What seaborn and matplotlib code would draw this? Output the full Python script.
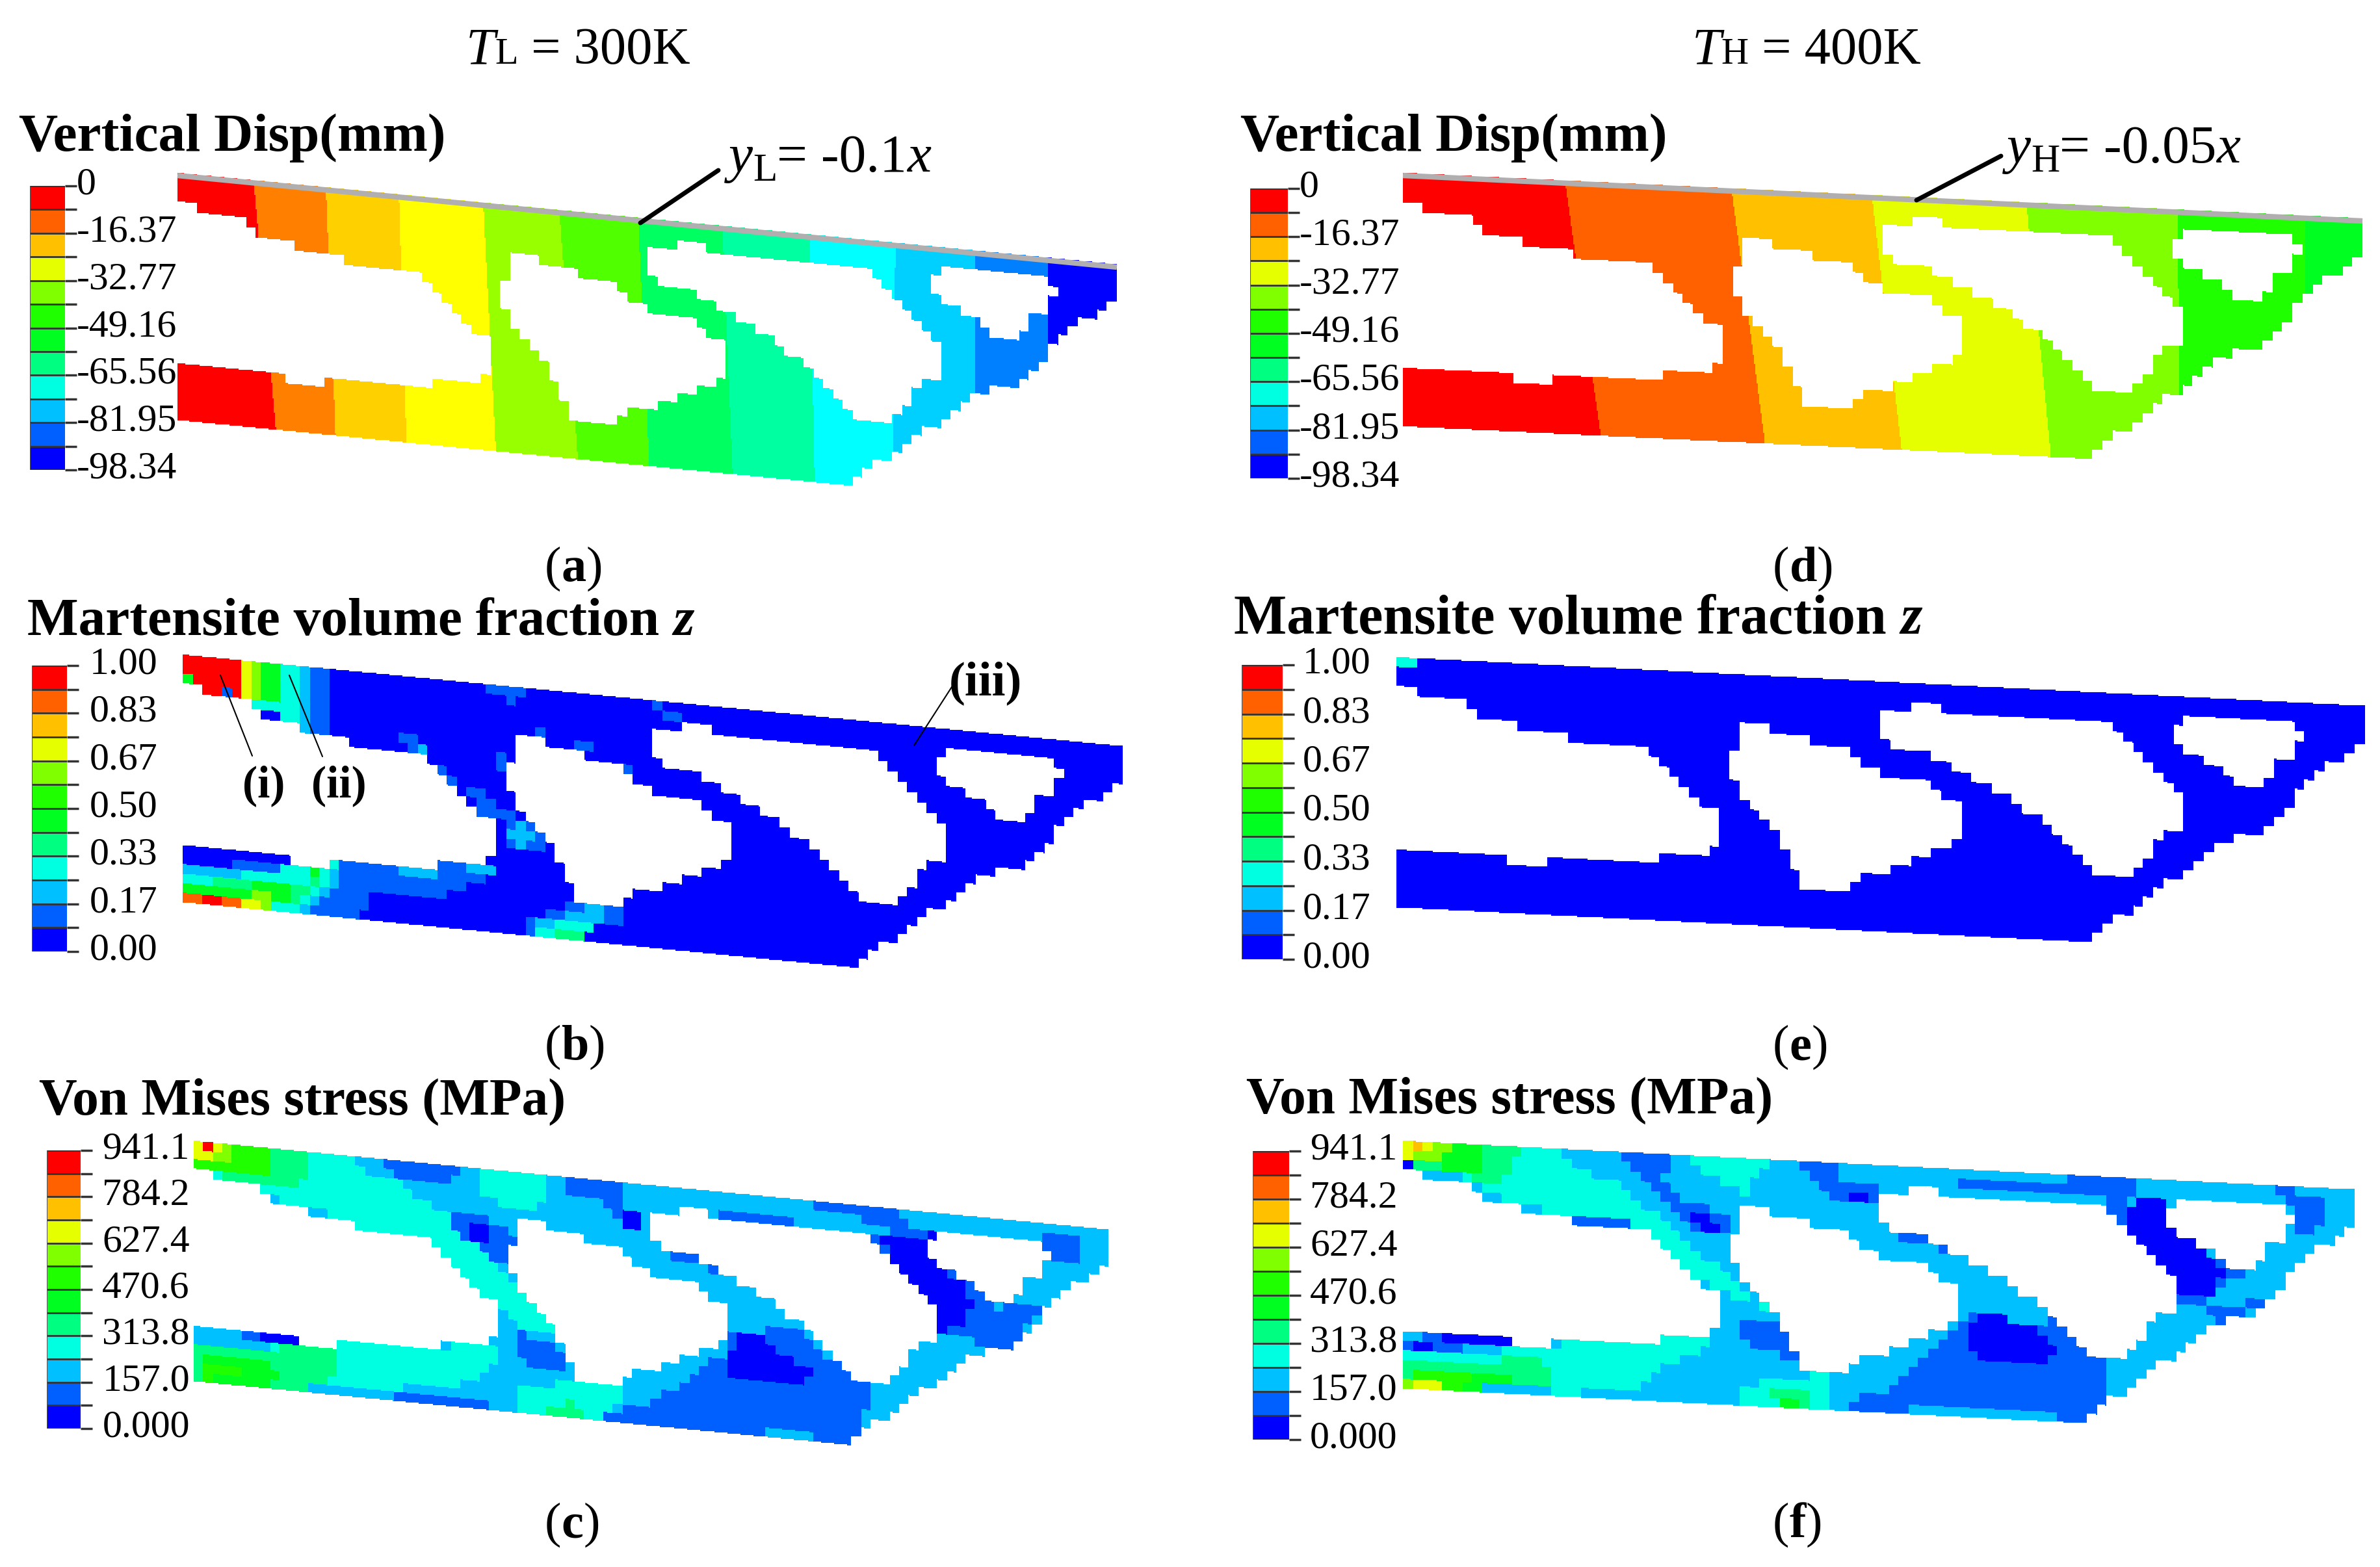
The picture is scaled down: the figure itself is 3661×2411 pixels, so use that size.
import numpy as np
import matplotlib
matplotlib.use('Agg')
import matplotlib.pyplot as plt
from matplotlib.colors import ListedColormap
from matplotlib.path import Path
from matplotlib.transforms import ScaledTranslation
import seaborn as sns

sns.set_theme(style='white')
plt.rcParams['font.family'] = ['Liberation Serif', 'DejaVu Serif']

# colour bands, lowest level first
band_colors = ['#0000FF', '#0060FF', '#00C0FF', '#00FFE0', '#00FF80', '#00FF20',
               '#20FF00', '#80FF00', '#E6FF00', '#FFC000', '#FF6000', '#FF0000']
disp_a_colors = ['#0000FF', '#0080FF', '#00D0FF', '#00FFFF', '#00FFA0', '#00FF60',
                 '#50FF00', '#98FF00', '#FFFF00', '#FFD000', '#FF8000', '#FF0000']

disp_labels = ['0', '-16.37', '-32.77', '-49.16', '-65.56', '-81.95', '-98.34']
mart_labels = ['1.00', '0.83', '0.67', '0.50', '0.33', '0.17', '0.00']
vm_labels = ['941.1', '784.2', '627.4', '470.6', '313.8', '157.0', '0.000']

# truss outline and holes
outline = [(245, 262), (1505, 607), (1505, 745), (1490, 775), (1455, 820), (1430, 870),
           (1405, 975), (1385, 1045), (1350, 1078), (1312, 1095), (1275, 1190), (1235, 1245),
           (1195, 1340), (1165, 1390), (1150, 1428), (1095, 1428), (780, 1342), (480, 1260),
           (245, 1195), (245, 998), (320, 1000), (383, 1022), (383, 1055), (440, 1075),
           (440, 1045), (462, 1027), (580, 1060), (580, 1035), (650, 1050), (650, 1025),
           (670, 1025), (670, 920), (660, 895), (640, 850), (610, 770), (585, 700), (565, 640),
           (465, 610), (465, 575), (395, 535), (355, 490), (335, 450), (310, 415), (245, 378)]
hole_1 = [(697, 562), (725, 565), (730, 600), (785, 615), (790, 650), (830, 685), (850, 740),
          (890, 790), (930, 815), (965, 880), (985, 950), (980, 1020), (965, 1050), (920, 1100),
          (880, 1140), (850, 1160), (830, 1200), (780, 1195), (765, 1150), (755, 1075),
          (740, 985), (715, 920), (695, 840), (680, 750), (690, 590)]
hole_2 = [(885, 530), (950, 542), (955, 575), (1170, 625), (1195, 690), (1215, 760), (1250, 860),
          (1275, 940), (1270, 1020), (1250, 1040), (1225, 1120), (1195, 1195), (1155, 1190),
          (1130, 1110), (1090, 1000), (1060, 925), (1030, 860), (980, 780), (930, 710),
          (885, 670), (870, 605)]
hole_3 = [(1268, 625), (1415, 665), (1425, 710), (1410, 775), (1390, 810), (1378, 880),
          (1340, 870), (1310, 800), (1265, 740), (1255, 680)]

# frame of each panel: read coords (left, right, top-left, top-right, bottom-left)
read_a = (238, 1497, 310, 655, 1240)
read_b = (245, 1505, 262, 607, 1195)
read_c = (260, 1485, 258, 592, 1165)
read_d = (260, 1545, 310, 482, 1265)
read_f = (260, 1535, 258, 442, 1190)
# same frame in figure pixels (x left, x right, y top-left, y top-right, y bottom-left)
px_a = (273, 1718, 266, 407, 646)
px_b = (281, 1727, 1007, 1148, 1388)
px_c = (298, 1705, 1755, 1892, 2125)
px_d = (2158, 3634, 266, 336, 656)
px_e = (2148, 3638, 1011, 1086, 1396)
px_f = (2158, 3622, 1755, 1830, 2136)

# displacement band edges along top and bottom of the truss
edges_a_top = [340, 437, 535, 648, 750, 856, 968, 1085, 1200, 1307, 1405]
edges_a_bot = [370, 450, 545, 665, 775, 870, 982, 1092, 1197, 1307, 1405]
edges_d_top = [477, 700, 888, 1095, 1298, 1468]
edges_d_bot = [525, 745, 928, 1128, 1300, 1468]

# regions (level, polygon), painted in order
regions_b = [
    (1, [(245, 250), (445, 300), (445, 600), (245, 600)]),
    (2, [(245, 250), (420, 300), (420, 600), (245, 600)]),
    (3, [(245, 250), (400, 290), (400, 600), (245, 600)]),
    (5, [(245, 250), (375, 285), (375, 430), (245, 430)]),
    (7, [(245, 250), (355, 280), (355, 430), (245, 430)]),
    (8, [(245, 250), (340, 275), (340, 430), (245, 430)]),
    (9, [(245, 250), (330, 275), (330, 430), (245, 430)]),
    (11, [(245, 250), (320, 270), (320, 430), (245, 430)]),
    (8, [(245, 330), (258, 330), (258, 352), (245, 352)]),
    (5, [(245, 352), (262, 352), (262, 378), (245, 378)]),
    (1, [(292, 385), (308, 385), (308, 420), (292, 420)]),
    (0, [(352, 465), (375, 465), (375, 500), (352, 500)]),
    (1, [(250, 1050), (380, 1055), (460, 1030), (660, 1050), (660, 1090), (590, 1180),
         (500, 1170), (480, 1250), (420, 1240), (245, 1195)]),
    (2, [(245, 1060), (380, 1070), (460, 1050), (440, 1180), (410, 1230), (245, 1195)]),
    (2, [(530, 1060), (580, 1070), (580, 1110), (530, 1100)]),
    (2, [(630, 1060), (660, 1060), (660, 1080), (630, 1080)]),
    (3, [(245, 1090), (320, 1090), (380, 1070), (450, 1050), (440, 1120), (400, 1220), (245, 1195)]),
    (4, [(245, 1110), (390, 1130), (430, 1100), (400, 1210), (245, 1195)]),
    (5, [(245, 1130), (380, 1130), (430, 1090), (440, 1070), (400, 1090), (380, 1210), (245, 1195)]),
    (7, [(245, 1150), (360, 1170), (370, 1220), (245, 1195)]),
    (8, [(250, 1165), (335, 1170), (345, 1210), (250, 1195)]),
    (10, [(250, 1175), (320, 1178), (320, 1200), (250, 1195)]),
    (11, [(268, 1170), (295, 1170), (290, 1195), (268, 1195)]),
    (1, [(705, 1260), (720, 1240), (780, 1200), (835, 1200), (830, 1270), (790, 1270), (785, 1345), (700, 1320)]),
    (2, [(715, 1260), (760, 1240), (790, 1210), (815, 1205), (800, 1290), (780, 1340), (715, 1310)]),
    (3, [(720, 1290), (770, 1260), (800, 1280), (780, 1335), (720, 1320)]),
    (4, [(720, 1310), (780, 1320), (780, 1345), (720, 1325)]),
    (1, [(625, 770), (650, 770), (690, 880), (660, 890), (640, 850)]),
    (1, [(680, 880), (720, 890), (750, 985), (700, 1000), (675, 1010), (675, 960)]),
    (2, [(690, 880), (720, 950), (700, 990), (680, 960)]),
    (3, [(630, 830), (660, 890), (670, 900), (640, 850)]),
    (5, [(710, 920), (725, 960), (730, 980), (720, 985)]),
    (1, [(525, 545), (555, 545), (580, 640), (550, 630)]),
    (2, [(550, 610), (575, 610), (575, 640)]),
    (1, [(655, 385), (705, 395), (690, 470), (680, 430), (655, 420)]),
    (1, [(880, 445), (915, 480), (910, 510), (885, 500)]),
    (2, [(890, 475), (910, 485), (905, 505)]),
    (1, [(720, 540), (730, 545), (730, 565), (720, 565)]),
    (1, [(770, 585), (790, 590), (790, 615), (770, 610)]),
    (1, [(835, 680), (850, 690), (845, 715)]),
    (1, [(665, 640), (682, 640), (682, 690), (665, 690)]),
    (1, [(580, 640), (600, 700), (620, 770), (600, 770), (585, 700)]),
]

regions_c = [
    (3, [(400, 300), (480, 325), (490, 380), (540, 410), (560, 470), (600, 530), (610, 590),
         (650, 660), (680, 780), (720, 880), (760, 1000), (690, 960), (670, 870), (630, 830),
         (590, 700), (570, 620), (470, 600), (450, 540), (370, 480), (340, 420), (260, 370)]),
    (3, [(640, 365), (730, 395), (725, 490), (690, 530), (645, 460)]),
    (3, [(415, 1180), (440, 1060), (470, 1000), (585, 1035), (650, 1025), (675, 1040), (670, 1080), (620, 1180), (530, 1190)]),
    (4, [(260, 258), (410, 300), (410, 390), (400, 430), (360, 430), (310, 400), (260, 360)]),
    (6, [(260, 258), (360, 290), (360, 390), (310, 385), (260, 365)]),
    (7, [(260, 258), (315, 275), (310, 330), (260, 340)]),
    (8, [(260, 258), (300, 270), (295, 315), (265, 320)]),
    (11, [(270, 258), (290, 265), (285, 290), (270, 285)]),
    (3, [(260, 1030), (420, 1040), (420, 1170), (260, 1165)]),
    (4, [(260, 1040), (360, 1050), (400, 1030), (450, 1050), (445, 1130), (415, 1200), (340, 1170), (260, 1165)]),
    (5, [(275, 1080), (350, 1090), (380, 1130), (380, 1180), (340, 1170), (265, 1165)]),
    (6, [(275, 1100), (325, 1100), (330, 1130), (270, 1160)]),
    (1, [(320, 975), (395, 995), (395, 1025), (320, 1010)]),
    (0, [(345, 985), (395, 1000), (395, 1025), (345, 1005)]),
    (3, [(690, 1170), (810, 1180), (840, 1200), (800, 1310), (690, 1280)]),
    (4, [(730, 1260), (770, 1240), (780, 1300), (725, 1285)]),
    (1, [(530, 1210), (660, 1250), (665, 1275), (530, 1240)]),
    (1, [(810, 1290), (880, 1240), (920, 1150), (980, 1040), (980, 980), (1070, 960), (1090, 1020),
         (1130, 1120), (1170, 1170), (1155, 1340), (1135, 1400), (1020, 1370), (810, 1310)]),
    (2, [(1020, 1345), (1085, 1360), (1085, 1385), (1020, 1370)]),
    (0, [(990, 975), (1015, 980), (1050, 1060), (1085, 1120), (1085, 1160), (1060, 1190), (1030, 1155), (980, 1140), (980, 1060)]),
    (1, [(1160, 600), (1250, 600), (1270, 720), (1340, 850), (1330, 960), (1290, 1000), (1260, 980), (1230, 860)]),
    (0, [(1180, 620), (1250, 610), (1240, 700), (1290, 800), (1310, 880), (1290, 930), (1285, 970), (1260, 970), (1255, 900), (1235, 830), (1205, 760)]),
    (1, [(520, 335), (615, 365), (600, 435), (550, 420), (520, 375)]),
    (1, [(755, 400), (835, 420), (830, 530), (870, 510), (860, 590), (830, 560), (810, 490), (755, 440)]),
    (1, [(970, 510), (1055, 530), (1075, 590), (950, 560)]),
    (1, [(1090, 490), (1190, 510), (1220, 590), (1330, 620), (1395, 650), (1220, 600), (1090, 510)]),
    (1, [(1390, 595), (1450, 610), (1450, 730), (1400, 720), (1395, 650)]),
    (0, [(840, 530), (860, 530), (860, 590), (840, 580)]),
    (1, [(605, 525), (635, 525), (690, 620), (680, 740), (640, 650), (600, 580)]),
    (0, [(625, 580), (655, 585), (660, 640), (630, 630)]),
    (1, [(690, 980), (745, 1010), (760, 1140), (720, 1110), (690, 1060)]),
    (1, [(1310, 900), (1400, 870), (1350, 1050), (1310, 1040)]),
    (1, [(890, 670), (950, 690), (965, 750), (910, 720)]),
]

regions_f = [
    (3, [(405, 280), (475, 290), (490, 370), (540, 410), (600, 540), (620, 600), (680, 730), (710, 820),
         (760, 910), (700, 850), (670, 800), (620, 700), (590, 600), (480, 540), (400, 490), (360, 420), (330, 380)]),
    (3, [(650, 320), (750, 335), (720, 460), (680, 410), (650, 360)]),
    (4, [(260, 258), (415, 280), (410, 340), (385, 420), (340, 390), (260, 370)]),
    (5, [(260, 258), (365, 275), (360, 370), (335, 370), (300, 340), (260, 330)]),
    (7, [(262, 258), (330, 265), (320, 320), (265, 340)]),
    (8, [(262, 258), (305, 262), (300, 310), (265, 315)]),
    (9, [(268, 260), (285, 262), (285, 290), (270, 290)]),
    (0, [(260, 345), (272, 345), (272, 370), (260, 370)]),
    (3, [(260, 1060), (460, 1040), (490, 985), (605, 1005), (605, 975), (680, 990), (680, 1010),
         (650, 1070), (600, 1110), (570, 1200), (480, 1210), (400, 1180)]),
    (4, [(265, 1080), (380, 1090), (440, 1060), (470, 1160), (410, 1185), (262, 1190)]),
    (5, [(270, 1110), (360, 1130), (410, 1150), (410, 1185), (262, 1190)]),
    (6, [(270, 1120), (340, 1130), (360, 1180), (262, 1190)]),
    (7, [(270, 1140), (310, 1150), (310, 1190), (262, 1190)]),
    (8, [(270, 1165), (310, 1170), (310, 1190), (270, 1190)]),
    (1, [(260, 995), (400, 1005), (400, 1030), (300, 1050), (260, 1060)]),
    (0, [(300, 1000), (400, 1005), (400, 1030), (320, 1025), (265, 1045)]),
    (3, [(715, 1190), (760, 1150), (830, 1140), (830, 1260), (710, 1245)]),
    (4, [(750, 1200), (810, 1195), (810, 1250), (760, 1250)]),
    (5, [(765, 1230), (790, 1225), (790, 1250), (765, 1250)]),
    (1, [(860, 1240), (920, 1180), (1000, 960), (1020, 900), (1095, 960), (1135, 920), (1195, 1065),
         (1205, 1200), (1180, 1318), (1000, 1270), (860, 1270)]),
    (0, [(1025, 900), (1045, 900), (1100, 960), (1130, 1030), (1130, 1080), (1105, 1105), (1060, 1085), (1020, 1060)]),
    (2, [(1060, 1270), (1130, 1280), (1130, 1305), (1060, 1295)]),
    (1, [(1200, 480), (1230, 480), (1290, 620), (1370, 730), (1395, 740), (1360, 800), (1340, 860), (1300, 880), (1260, 740)]),
    (0, [(1230, 490), (1285, 485), (1280, 580), (1330, 650), (1365, 760), (1335, 860), (1305, 855), (1295, 790), (1260, 690), (1230, 590)]),
    (1, [(540, 295), (620, 310), (610, 400), (640, 480), (700, 560), (700, 620), (650, 590), (610, 500), (575, 390)]),
    (1, [(795, 335), (845, 345), (850, 420), (895, 430), (890, 510), (850, 490), (800, 400)]),
    (0, [(850, 450), (885, 455), (885, 510), (855, 490)]),
    (0, [(635, 535), (670, 540), (680, 590), (655, 590)]),
    (1, [(985, 420), (1100, 410), (1200, 395), (1240, 400), (1235, 470), (1110, 470), (985, 450)]),
    (1, [(1420, 430), (1500, 470), (1500, 590), (1450, 600), (1450, 510)]),
    (1, [(710, 910), (775, 960), (790, 1090), (730, 1040), (710, 980)]),
    (1, [(1340, 880), (1420, 860), (1370, 950), (1345, 950)]),
    (1, [(920, 600), (1000, 640), (1000, 670), (940, 660)]),
    (1, [(480, 540), (570, 570), (480, 570)]),
]

NCOL = 96
NROW = 26
CELL = 2  # figure pixels per heatmap cell


def to_uv(points, frame):
    # read coords -> position along truss (u) and below its top edge (v)
    left, right, top_l, top_r, bot_l = frame
    pts = np.array(points, dtype=float)
    u = (pts[:, 0] - left) / (right - left)
    v = (pts[:, 1] - (top_l + u * (top_r - top_l))) / (bot_l - top_l)
    return np.column_stack([u, v])


# which elements of the mesh are solid
ci, cj = np.meshgrid((np.arange(NCOL) + 0.5) / NCOL, (np.arange(NROW) + 0.5) / NROW)
centres = np.column_stack([ci.ravel(), cj.ravel()])
solid = Path(to_uv(outline, read_b)).contains_points(centres)
for hole in [hole_1, hole_2, hole_3]:
    solid &= ~Path(to_uv(hole, read_b)).contains_points(centres)
solid = solid.reshape(NROW, NCOL)


def element_levels(base, regions, frame):
    lev = np.full(NROW * NCOL, base)
    for level, poly in regions:
        lev[Path(to_uv(poly, frame)).contains_points(centres)] = level
    return lev.reshape(NROW, NCOL)


def draw_truss(px, frame=None, levels=None, edges=None, colors=band_colors, top_level=11):
    x0, x1, y0, y1, yb = px
    y_max = yb + (y1 - y0) + 4
    ax = fig.add_axes([x0 / FW, 1 - y_max / FH, (x1 - x0) / FW, (y_max - y0) / FH])
    nx = int((x1 - x0) / CELL)
    ny = int((y_max - y0) / CELL)
    xc, yc = np.meshgrid((np.arange(nx) + 0.5) / nx, y0 + (np.arange(ny) + 0.5) * (y_max - y0) / ny)
    v = (yc - y0 - xc * (y1 - y0)) / (yb - y0)
    i = np.clip((xc * NCOL).astype(int), 0, NCOL - 1)
    j = (v * NROW).astype(int)
    inside = (v >= 0) & (v < 1)
    j = np.clip(j, 0, NROW - 1)
    show = inside & solid[j, i]
    if edges is None:
        vals = levels[j, i].astype(float)
    else:
        # smooth bands, one edge per level step
        top, bot = edges
        left, right = frame[0], frame[1]
        tu = (np.array(top) - left) / (right - left)
        bu = (np.array(bot) - left) / (right - left)
        vals = np.full(xc.shape, float(top_level))
        for k in range(len(tu)):
            vals[xc >= tu[k] + (bu[k] - tu[k]) * np.clip(v, 0, 1)] = top_level - k - 1
    sns.heatmap(vals, mask=~show, cmap=ListedColormap(colors), vmin=-0.5, vmax=11.5,
                cbar=False, xticklabels=False, yticklabels=False, ax=ax)
    ax.patch.set_visible(False)
    ax.set_axis_off()


def draw_scale(x0, x1, y0, y1, labels, pad=0):
    ax = fig.add_axes([x0 / FW, 1 - y1 / FH, (x1 - x0) / FW, (y1 - y0) / FH])
    sns.heatmap(np.arange(11, -1, -1).reshape(12, 1), cmap=ListedColormap(band_colors), vmin=-0.5, vmax=11.5,
                cbar=False, xticklabels=False, ax=ax)
    ax.set_yticks(np.arange(13))
    ax.set_yticklabels([labels[k // 2] if k % 2 == 0 else '' for k in range(13)], rotation=0, fontsize=43, color='black')
    ax.yaxis.tick_right()
    ax.tick_params(axis='y', length=13, width=2.5, color='#333333', pad=pad, right=True, left=False)
    up = ScaledTranslation(0, 8 / 100, fig.dpi_scale_trans)
    for t in ax.get_yticklabels():
        t.set_transform(t.get_transform() + up)
    ax.hlines(np.arange(13), 0, 1, color='#333333', lw=2)
    ax.vlines([0], 0, 12, color='#555555', lw=1.5)


def chain(x, y, parts):
    for s, kw in parts:
        kw = dict(kw)
        dy = kw.pop('dy', 0)
        t = over.text(x, y + dy, s, va='baseline', ha='left', color='black', **kw)
        x += t.get_window_extent(fig.canvas.get_renderer()).width


FW, FH = 3662, 2411
fig = plt.figure(figsize=(FW / 100, FH / 100), dpi=100, facecolor='white')

levels_b = element_levels(0, regions_b, read_b)
levels_c = element_levels(2, regions_c, read_c)
levels_e = np.zeros((NROW, NCOL), dtype=int)
levels_e[0, :2] = 3
levels_f = element_levels(2, regions_f, read_f)

draw_truss(px_a, frame=read_a, edges=(edges_a_top, edges_a_bot), colors=disp_a_colors)
draw_truss(px_b, levels=levels_b)
draw_truss(px_c, levels=levels_c)
draw_truss(px_d, frame=read_d, edges=(edges_d_top, edges_d_bot))
draw_truss(px_e, levels=levels_e)
draw_truss(px_f, levels=levels_f)

draw_scale(46, 100, 286, 723, disp_labels)
draw_scale(49, 103, 1024, 1464, mart_labels, pad=12)
draw_scale(72, 124, 1770, 2198, vm_labels, pad=11)
draw_scale(1923, 1981, 290, 736, disp_labels)
draw_scale(1910, 1973, 1023, 1476, mart_labels, pad=9)
draw_scale(1927, 1983, 1771, 2215, vm_labels, pad=10)

over = fig.add_axes([0, 0, 1, 1], zorder=5)
over.set_xlim(0, FW)
over.set_ylim(FH, 0)
over.patch.set_visible(False)
over.set_axis_off()

# grey loading line above the two top panels
for px in [px_a, px_d]:
    over.plot([px[0], px[1]], [px[2] + 4, px[3] + 4], color='#B0AEAE', lw=6, solid_capstyle='butt')

# leader lines
over.plot([985, 1105], [343, 262], color='black', lw=5)
over.plot([2948, 3078], [308, 240], color='black', lw=5)
over.plot([339, 388], [1039, 1163], color='black', lw=1.5)
over.plot([445, 496], [1039, 1164], color='black', lw=1.5)
over.plot([1406, 1464], [1147, 1057], color='black', lw=1.5)

# headers
norm = dict(fontsize=58)
ital = dict(fontsize=58, style='italic')
small = dict(fontsize=42)
chain(717, 98, [('T', ital), ('L', small), (' = 300K', norm)])
chain(2603, 98, [('T', ital), ('H', small), (' = 400K', norm)])
big = dict(fontsize=60)
big_i = dict(fontsize=60, style='italic')
chain(1121, 264, [('y', big_i), ('L', dict(fontsize=44, dy=14)), ('= -0.1', big), ('x', big_i)])
chain(3087, 250, [('y', big_i), ('H', dict(fontsize=44, dy=14)), ('= -0.05', big), ('x', big_i)])

# panel titles
bold = dict(fontsize=60, weight='bold')
bold_c = dict(fontsize=58.5, weight='bold')
bold_e = dict(fontsize=62, weight='bold')
chain(29, 232, [('Vertical Disp(mm)', bold)])
chain(42, 977, [('Martensite volume fraction ', bold), ('z', dict(bold, style='italic'))])
chain(60, 1715, [('Von Mises stress (MPa)', bold_c)])
chain(1908, 232, [('Vertical Disp(mm)', bold)])
chain(1898, 975, [('Martensite volume fraction ', bold_e), ('z', dict(bold_e, style='italic'))])
chain(1917, 1713, [('Von Mises stress (MPa)', bold_c)])

# panel letters
cap = dict(fontsize=55)
cap_b = dict(fontsize=55, weight='bold')
for x, y, letter in [(838, 894, 'a'), (838, 1630, 'b'), (838, 2365, 'c'),
                     (2727, 894, 'd'), (2727, 1630, 'e'), (2727, 2365, 'f')]:
    chain(x, y, [('(', cap), (letter, cap_b), (')', cap)])

chain(373, 1226, [('(i)', dict(fontsize=50, weight='bold'))])
chain(479, 1226, [('(ii)', dict(fontsize=50, weight='bold'))])
chain(1460, 1069, [('(iii)', dict(fontsize=54, weight='bold'))])

fig.savefig('out.png', dpi=100, facecolor='white')
